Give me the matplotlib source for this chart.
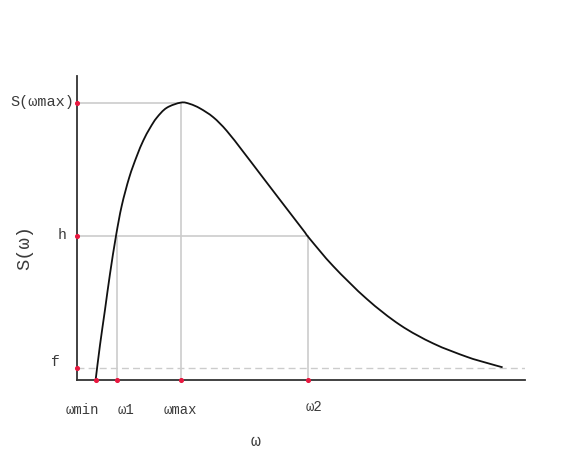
import matplotlib
matplotlib.use("Agg")
import matplotlib.pyplot as plt
from matplotlib.path import Path
from matplotlib.patches import PathPatch

# ---- data ----
omega = [0.417, 0.513, 0.625, 0.737, 0.871, 0.998, 1.167, 1.333, 1.480, 1.629,
         1.779, 2.002, 2.321, 2.522, 2.746, 3.042, 3.342, 3.712, 4.085, 4.458,
         4.828, 5.089, 5.201, 5.721, 6.467, 7.210, 7.953, 8.699, 9.145, 9.500]
S = [0.0, 0.124, 0.252, 0.382, 0.519, 0.627, 0.730, 0.806, 0.863, 0.908,
     0.945, 0.981, 1.0, 0.995, 0.979, 0.947, 0.898, 0.822, 0.743, 0.664,
     0.586, 0.531, 0.507, 0.409, 0.291, 0.197, 0.130, 0.082, 0.060, 0.044]

w_min, w_1, w_max, w_2 = 0.417, 0.89, 2.32, 5.16
S_max, h_level, f_level = 1.0, 0.519, 0.043
x_marks = [w_min, w_1, w_max, w_2]
x_labels = ["ωmin", "ω1", "ωmax", "ω2"]
y_marks = [S_max, h_level, f_level]
y_labels = ["S(ωmax)", "h", "f"]

W, H = 564, 477
fig = plt.figure(figsize=(W / 100, H / 100), dpi=100)
ax = fig.add_axes([77 / W, 1 - 380.5 / H, 448 / W, 303.8 / H])
ax.set_xlim(0, 10)
ax.set_ylim(0, 1.097)

font = "Liberation Mono"
tcol = "#3a3a3a"
grey = "#cccccc"
red = "#e8173f"

# guide lines
ax.plot([0, w_max], [S_max, S_max], color=grey, lw=1.2, zorder=1)
ax.plot([0, w_2], [h_level, h_level], color=grey, lw=1.2, zorder=1)
ax.plot([w_1, w_1], [0, h_level], color=grey, lw=1.2, zorder=1)
ax.plot([w_max, w_max], [0, S_max], color=grey, lw=1.2, zorder=1)
ax.plot([w_2, w_2], [0, h_level], color=grey, lw=1.2, zorder=1)
ax.axhline(f_level, color=grey, lw=1.0, ls=(0, (5, 3)), zorder=1)

# curve: smooth Bezier path through the read points (Catmull-Rom style)
pts = list(zip(omega, S))
n = len(pts)
verts = [pts[0]]
codes = [Path.MOVETO]
for i in range(n - 1):
    p0 = pts[i - 1] if i > 0 else pts[i]
    p1 = pts[i]
    p2 = pts[i + 1]
    p3 = pts[i + 2] if i + 2 < n else pts[i + 1]
    c1 = (p1[0] + (p2[0] - p0[0]) / 6, p1[1] + (p2[1] - p0[1]) / 6)
    c2 = (p2[0] - (p3[0] - p1[0]) / 6, p2[1] - (p3[1] - p1[1]) / 6)
    verts += [c1, c2, p2]
    codes += [Path.CURVE4] * 3
ax.add_patch(PathPatch(Path(verts, codes), fill=False, edgecolor="#111111",
                       lw=1.3, zorder=2, transform=ax.transData))

# spines
for s in ["top", "right"]:
    ax.spines[s].set_visible(False)
for s in ["left", "bottom"]:
    ax.spines[s].set_color("#333333")
    ax.spines[s].set_linewidth(1.3)
ax.set_xticks([])
ax.set_yticks([])

# red markers on axes
ax.scatter(x_marks, [0] * len(x_marks), s=7, color=red, zorder=4, clip_on=False)
ax.scatter([0] * len(y_marks), y_marks, s=7, color=red, zorder=4, clip_on=False)

# tick labels (pixel positions of label centres)
xlab_pos = [(82, 410), (126, 410), (180, 410), (314, 407)]
for lab, (px, py) in zip(x_labels, xlab_pos):
    fig.text(px / W, 1 - py / H, lab, ha="center", va="center",
             fontsize=10, family=font, color=tcol)
ylab_pos = [(74, 102), (66, 235), (60, 362)]
ylab_size = [11, 10.5, 10.5]
for lab, (px, py), fs in zip(y_labels, ylab_pos, ylab_size):
    fig.text(px / W, 1 - py / H, lab, ha="right", va="center",
             fontsize=fs, family=font, color=tcol)

# axis labels
fig.text(256 / W, 1 - 442 / H, "ω", ha="center", va="center",
         fontsize=12, family=font, color=tcol)
fig.text(25 / W, 1 - 247 / H, "S(ω)", ha="center", va="center", rotation=90,
         fontsize=13.5, family=font, color=tcol)

fig.savefig("out.png", dpi=100, facecolor="white")
